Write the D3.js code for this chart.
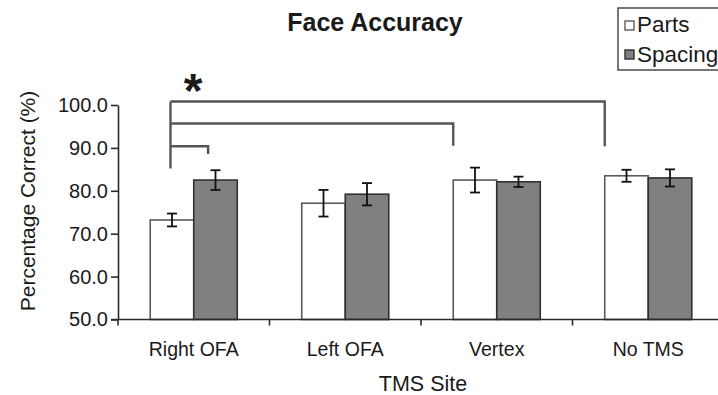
<!DOCTYPE html>
<html>
<head>
<meta charset="utf-8">
<script src="https://cdn.jsdelivr.net/npm/d3@7"></script>
<style>
  html, body { margin: 0; padding: 0; background: #fff; }
  svg { display: block; }
  text { font-family: "Liberation Sans", Arial, Helvetica, sans-serif; fill: #1a1a1a; }
</style>
</head>
<body>
<svg id="chart" width="718" height="395"></svg>
<script>
// Face accuracy by TMS site, parts vs spacing trials
const sites = ["Right OFA", "Left OFA", "Vertex", "No TMS"];
const conditions = ["Parts", "Spacing"];
const partsMean = [73.2, 77.1, 82.5, 83.5];
const partsErr = [1.5, 3.1, 2.9, 1.4];
const spacingMean = [82.5, 79.2, 82.1, 83.0];
const spacingErr = [2.3, 2.6, 1.2, 2.0];
const yTicks = [50, 60, 70, 80, 90, 100];

// significance brackets: all start at Right OFA / Parts
const bracketTargets = [
  { site: "No TMS", cond: "Parts", level: 100.8, drop: 90.4 },
  { site: "Vertex", cond: "Parts", level: 95.7, drop: 90.5 },
  { site: "Right OFA", cond: "Spacing", level: 90.4, drop: 88.6 }
];
const bracketStemBottom = 85.2;

const svg = d3.select("#chart");

const x = d3.scaleBand().domain(sites).range([118, 724]).padding(0);
const x1 = d3.scaleBand().domain(conditions).range([0, x.bandwidth()])
  .paddingInner(0).paddingOuter(0.741);
const y = d3.scaleLinear().domain([50, 100]).range([319.5, 105]);

const fills = { Parts: "#ffffff", Spacing: "#808080" };
const strokes = { Parts: "#5a5a5a", Spacing: "#303030" };

const rows = [];
sites.forEach((s, i) => {
  rows.push({ site: s, cond: "Parts", mean: partsMean[i], err: partsErr[i] });
  rows.push({ site: s, cond: "Spacing", mean: spacingMean[i], err: spacingErr[i] });
});

// bars
svg.append("g").selectAll("rect").data(rows).join("rect")
  .attr("x", d => x(d.site) + x1(d.cond))
  .attr("y", d => y(d.mean))
  .attr("width", x1.bandwidth())
  .attr("height", d => y(50) - y(d.mean))
  .attr("fill", d => fills[d.cond])
  .attr("stroke", d => strokes[d.cond])
  .attr("stroke-width", 1.6);

// error bars
const eb = svg.append("g").attr("stroke", "#111").attr("stroke-width", 1.8);
rows.forEach(d => {
  const cx = x(d.site) + x1(d.cond) + x1.bandwidth() / 2;
  const capW = 5;
  eb.append("line").attr("x1", cx).attr("x2", cx).attr("y1", y(d.mean + d.err)).attr("y2", y(d.mean - d.err));
  eb.append("line").attr("x1", cx - capW).attr("x2", cx + capW).attr("y1", y(d.mean + d.err)).attr("y2", y(d.mean + d.err));
  eb.append("line").attr("x1", cx - capW).attr("x2", cx + capW).attr("y1", y(d.mean - d.err)).attr("y2", y(d.mean - d.err));
});

// y axis
const yAxis = d3.axisLeft(y).tickValues(yTicks).tickFormat(d3.format(".1f"))
  .tickSize(7).tickSizeOuter(0).tickPadding(3);
const gy = svg.append("g").attr("transform", "translate(118,0)").call(yAxis);
gy.select(".domain").attr("stroke", "#2a2a2a").attr("stroke-width", 1.6);
gy.selectAll(".tick line").attr("stroke", "#2a2a2a").attr("stroke-width", 1.6);
gy.selectAll(".tick text").attr("font-size", 20).attr("fill", "#1a1a1a")
  .attr("font-family", "Liberation Sans, Arial, sans-serif");

// x axis line with ticks at category boundaries
const gx = svg.append("g");
gx.append("line").attr("x1", x.range()[0] - 7).attr("x2", x.range()[1])
  .attr("y1", y(50)).attr("y2", y(50)).attr("stroke", "#2a2a2a").attr("stroke-width", 1.6);
const bounds = sites.map(s => x(s)).concat([x.range()[1]]);
gx.selectAll("line.tk").data(bounds).join("line").attr("class", "tk")
  .attr("x1", d => d).attr("x2", d => d)
  .attr("y1", y(50)).attr("y2", y(50) + 6)
  .attr("stroke", "#2a2a2a").attr("stroke-width", 1.6);
gx.selectAll("text").data(sites).join("text")
  .attr("x", d => x(d) + x.bandwidth() / 2)
  .attr("y", 356)
  .attr("text-anchor", "middle")
  .attr("font-size", 19.5)
  .text(d => d);

// axis titles
svg.append("text").attr("x", 423).attr("y", 391).attr("text-anchor", "middle")
  .attr("font-size", 21.5).text("TMS Site");
svg.append("text").attr("transform", "translate(34.5,201) rotate(-90)")
  .attr("text-anchor", "middle").attr("font-size", 21).text("Percentage Correct (%)");

// title
svg.append("text").attr("x", 375).attr("y", 30.5).attr("text-anchor", "middle")
  .attr("font-size", 25).attr("font-weight", "bold").text("Face Accuracy");

// significance brackets
const bg = svg.append("g").attr("fill", "none").attr("stroke", "#555")
  .attr("stroke-width", 2.4);
const stemX = x("Right OFA") + x1("Parts") + x1.bandwidth() / 2 - 1.5;
bg.append("line").attr("x1", stemX).attr("x2", stemX)
  .attr("y1", y(bracketTargets[0].level)).attr("y2", y(bracketStemBottom));
bracketTargets.forEach(b => {
  const ex = b.cond === "Parts"
    ? x(b.site) + x1("Parts")
    : x(b.site) + x1("Spacing") + x1.bandwidth() * 0.33;
  bg.append("path").attr("d", d3.line()([[stemX, y(b.level)], [ex, y(b.level)], [ex, y(b.drop)]]));
});
svg.append("text").attr("x", 193).attr("y", 107).attr("text-anchor", "middle")
  .attr("font-size", 48).attr("font-weight", "bold").attr("fill", "#111").text("*");

// legend
const lg = svg.append("g");
lg.append("rect").attr("x", 618).attr("y", 8).attr("width", 130).attr("height", 62)
  .attr("fill", "#fff").attr("stroke", "#555").attr("stroke-width", 1.6);
conditions.forEach((c, i) => {
  const yy = 21 + i * 29;
  lg.append("rect").attr("x", 625).attr("y", yy).attr("width", 9).attr("height", 9)
    .attr("fill", fills[c]).attr("stroke", strokes[c]).attr("stroke-width", 1.4);
  lg.append("text").attr("x", 637).attr("y", 31.5 + i * 30).attr("font-size", 22.5).text(c);
});
</script>
</body>
</html>
